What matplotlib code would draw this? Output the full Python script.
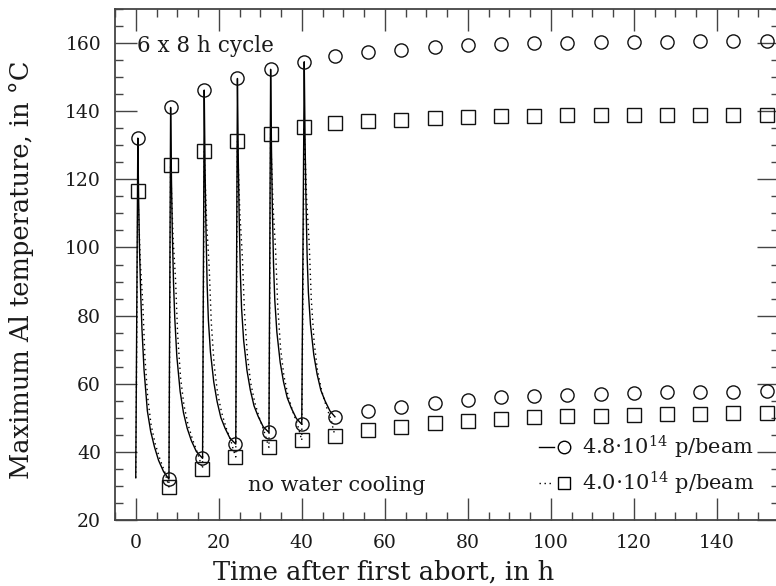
import matplotlib
matplotlib.use("Agg")
import matplotlib.pyplot as plt
from matplotlib.lines import Line2D
from matplotlib.legend_handler import HandlerTuple
from matplotlib.ticker import MultipleLocator

plt.rcParams['font.family'] = ['DejaVu Serif', 'DejaVu Sans']
plt.rcParams['mathtext.fontset'] = 'dejavuserif'

# ---------------- data ----------------
# peaks of each 8 h cycle
peak_t = [0.5, 8.4, 16.5, 24.5, 32.5, 40.6]
circ_peak = [132.1, 141.1, 146.2, 149.6, 152.3, 154.5]
sq_peak = [116.6, 124.1, 128.3, 131.3, 133.4, 135.4]

# minima / lower series (no water cooling)
low_t = [8, 16, 24, 32, 40, 48, 56, 64, 72, 80, 88, 96, 104, 112, 120, 128, 136, 144, 152]
circ_low = [32.0, 38.1, 42.3, 45.7, 48.1, 50.3, 52.1, 53.2, 54.3, 55.3, 56.0, 56.5,
            56.8, 57.1, 57.4, 57.6, 57.7, 57.7, 57.9]
sq_low = [29.7, 35.1, 38.5, 41.3, 43.4, 44.8, 46.5, 47.4, 48.4, 49.1, 49.6, 50.1,
          50.4, 50.6, 50.9, 51.1, 51.1, 51.3, 51.5]

# upper series after the cycles
high_t = [48, 56, 64, 72, 80, 88, 96, 104, 112, 120, 128, 136, 144, 152]
circ_high = [156.2, 157.4, 158.1, 158.7, 159.4, 159.7, 159.9, 160.1, 160.3, 160.4,
             160.4, 160.6, 160.6, 160.6]
sq_high = [136.5, 137.1, 137.5, 138.0, 138.3, 138.6, 138.6, 138.8, 138.8, 138.8,
           139.0, 139.0, 139.0, 139.0]

# start of the first cycle
start_t = 0.0
start_T = 32.4

# cooling curves, 4.8e14 p/beam (solid)
circ_curve_t = [
    [0.5, 0.7, 0.9, 1.2, 1.5, 2.0, 2.8, 3.6, 4.5, 5.5, 6.7, 8.0],
    [8.4, 8.6, 8.8, 9.1, 9.4, 9.9, 10.7, 11.5, 12.4, 13.4, 14.6, 16.1],
    [16.5, 16.7, 16.9, 17.2, 17.5, 18.0, 18.8, 19.6, 20.5, 21.5, 22.7, 24.1],
    [24.5, 24.7, 24.9, 25.2, 25.5, 26.0, 26.8, 27.6, 28.5, 29.5, 30.7, 32.1],
    [32.5, 32.7, 32.9, 33.2, 33.5, 34.0, 34.8, 35.6, 36.5, 37.5, 38.7, 40.0],
    [40.6, 40.8, 41.0, 41.3, 41.6, 42.1, 42.9, 43.7, 44.6, 45.6, 46.8, 48.0],
]
circ_curve_T = [
    [132.1, 114.1, 100.1, 86.1, 76.0, 64.0, 52.0, 46.0, 41.5, 37.5, 34.2, 32.0],
    [141.1, 120.5, 105.1, 89.6, 79.3, 68.0, 57.7, 51.5, 46.9, 43.3, 40.1, 38.1],
    [146.2, 123.3, 106.7, 89.1, 78.7, 69.3, 60.5, 54.8, 50.1, 47.0, 44.0, 42.3],
    [149.6, 126.7, 110.1, 92.5, 82.1, 72.7, 63.9, 58.2, 53.5, 50.4, 47.4, 45.7],
    [152.3, 129.4, 112.7, 95.0, 84.6, 75.2, 66.3, 60.6, 55.9, 52.8, 49.8, 48.1],
    [154.5, 131.6, 114.9, 97.2, 86.8, 77.4, 68.5, 62.8, 58.1, 55.0, 52.0, 50.3],
]

# cooling curves, 4.0e14 p/beam (dotted)
sq_curve_t = [
    [0.5, 0.8, 1.1, 1.7, 2.2, 2.9, 3.7, 4.7, 5.8, 7.0, 7.5, 8.0],
    [8.4, 8.7, 9.0, 9.6, 10.1, 10.8, 11.6, 12.6, 13.7, 14.9, 15.5, 16.1],
    [16.5, 16.8, 17.1, 17.7, 18.2, 18.9, 19.7, 20.7, 21.8, 23.0, 23.5, 24.1],
    [24.5, 24.8, 25.1, 25.7, 26.2, 26.9, 27.7, 28.7, 29.8, 31.0, 31.5, 32.1],
    [32.5, 32.8, 33.1, 33.7, 34.2, 34.9, 35.7, 36.7, 37.8, 39.0, 39.5, 40.0],
    [40.6, 40.9, 41.2, 41.8, 42.3, 43.0, 43.8, 44.8, 45.9, 47.1, 47.5, 48.0],
]
sq_curve_T = [
    [116.6, 106.2, 95.7, 83.6, 67.9, 55.8, 47.9, 42.3, 38.0, 34.0, 31.9, 29.7],
    [124.1, 113.4, 102.7, 90.3, 74.3, 61.8, 53.8, 48.0, 43.6, 39.6, 37.3, 35.1],
    [128.3, 117.5, 106.7, 94.2, 78.0, 65.4, 57.4, 51.5, 47.0, 43.0, 40.7, 38.5],
    [131.3, 120.5, 109.7, 97.1, 80.9, 68.3, 60.2, 54.4, 49.9, 45.8, 43.6, 41.3],
    [133.4, 122.6, 111.8, 99.2, 83.0, 70.4, 62.3, 56.5, 52.0, 47.9, 45.7, 43.4],
    [135.4, 124.5, 113.7, 101.0, 84.7, 72.0, 63.8, 57.9, 53.4, 49.3, 47.1, 44.8],
]

labels = [r'4.8$\cdot$10$^{14}$ p/beam', r'4.0$\cdot$10$^{14}$ p/beam']

# ---------------- figure ----------------
fig = plt.figure(figsize=(7.76, 5.86), dpi=100)
ax = fig.add_axes([115 / 776, 66 / 586, 664 / 776, 511 / 586])

axis_col = '#444444'
text_col = '#1a1a1a'
dotted = (0, (1, 2.6))

# continuous paths: start -> decay1 -> rise -> decay2 ...
solid_t = [start_t]
solid_T = [start_T]
for tt, TT in zip(circ_curve_t, circ_curve_T):
    solid_t += tt
    solid_T += TT
dot_t = [start_t]
dot_T = [start_T]
for tt, TT in zip(sq_curve_t, sq_curve_T):
    dot_t += tt
    dot_T += TT

ax.plot(solid_t, solid_T, color='black', lw=1.0, zorder=2)
ax.plot(dot_t, dot_T, color='black', lw=1.0, ls=dotted, zorder=2)

mk = dict(ls='none', mfc='none', mec='#111111', mew=1.0, ms=9.5, zorder=3)
ax.plot(peak_t, circ_peak, marker='o', **mk)
ax.plot(low_t, circ_low, marker='o', **mk)
ax.plot(high_t, circ_high, marker='o', **mk)
ax.plot(peak_t, sq_peak, marker='s', **mk)
ax.plot(low_t, sq_low, marker='s', **mk)
ax.plot(high_t, sq_high, marker='s', **mk)

ax.set_xlim(-5, 155)
ax.set_ylim(20, 170)
ax.xaxis.set_major_locator(MultipleLocator(20))
ax.xaxis.set_minor_locator(MultipleLocator(5))
ax.yaxis.set_major_locator(MultipleLocator(20))
ax.yaxis.set_minor_locator(MultipleLocator(5))
ax.tick_params(which='both', direction='in', top=True, right=True,
               color=axis_col, labelsize=13.5, labelcolor=text_col)
ax.tick_params(which='major', length=16, width=1.0, pad=10)
ax.tick_params(which='minor', length=5.5, width=1.0)
for s in ax.spines.values():
    s.set_color(axis_col)
    s.set_linewidth(1.3)

ax.set_xlabel('Time after first abort, in h', fontsize=18.5, color=text_col)
ax.set_ylabel('Maximum Al temperature, in °C', fontsize=18.5, color=text_col)
ax.xaxis.set_label_coords(0.405, -0.078)
ax.yaxis.set_label_coords(-0.122, 0.49)

ax.text(0.4, 159, '6 x 8 h cycle', fontsize=15.5, va='center', ha='left', color=text_col)
ax.text(27, 30, 'no water cooling', fontsize=15, va='center', ha='left', color=text_col)

h1 = (Line2D([], [], color='black', lw=1.0),
      Line2D([], [], ls='none', marker='o', mfc='none', mec='black', ms=9))
h2 = (Line2D([], [], color='black', lw=1.0, ls=dotted),
      Line2D([], [], ls='none', marker='s', mfc='none', mec='black', ms=9))
leg = ax.legend([h1, h2], labels, handler_map={tuple: HandlerTuple(ndivide=None, pad=0.1)},
                loc='lower right', bbox_to_anchor=(0.964, 0.045), frameon=False,
                fontsize=15, handlelength=1.6, handletextpad=0.5, labelspacing=0.42,
                borderpad=0, borderaxespad=0)
for t in leg.get_texts():
    t.set_color(text_col)

fig.savefig('out.png', dpi=100)
